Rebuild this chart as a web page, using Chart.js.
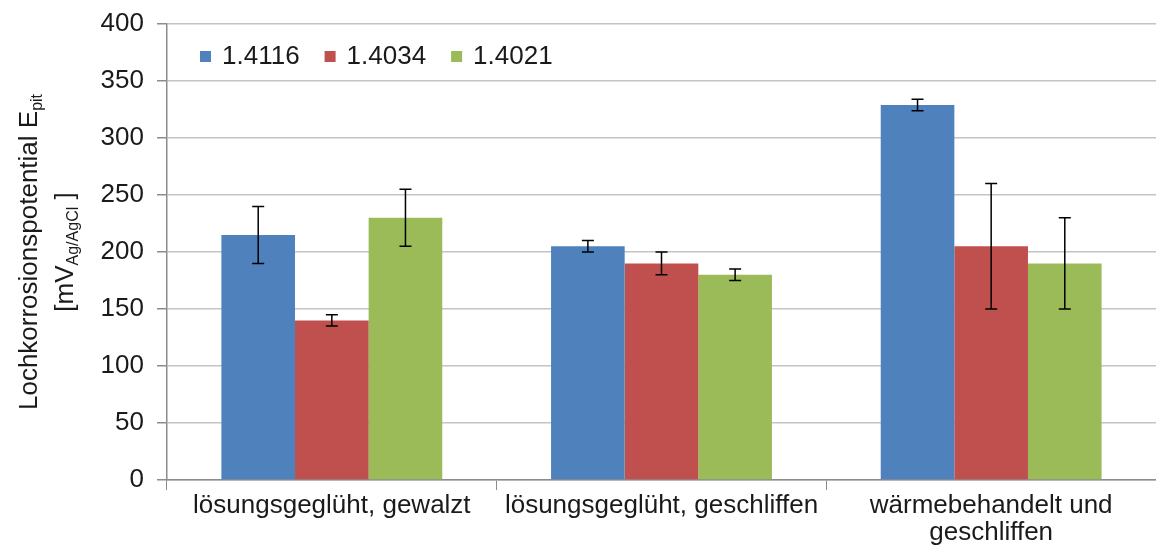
<!DOCTYPE html>
<html>
<head>
<meta charset="utf-8">
<script src="https://cdn.jsdelivr.net/npm/chart.js@4/dist/chart.umd.min.js"></script>
<style>
html,body{margin:0;padding:0;background:#fff;}
#wrap{width:1156px;height:554px;position:relative;}
</style>
</head>
<body>
<div id="wrap"><canvas id="c" width="1156" height="554"></canvas></div>
<script>
const categories = [["lösungsgeglüht, gewalzt"], ["lösungsgeglüht, geschliffen"], ["wärmebehandelt und", "geschliffen"]];
const seriesNames = ["1.4116", "1.4034", "1.4021"];
const values4116 = [215, 205, 329];
const values4034 = [140, 190, 205];
const values4021 = [230, 180, 190];
const err4116 = [25, 5, 5];
const err4034 = [5, 10, 55];
const err4021 = [25, 5, 40];
const yTicks = [0, 50, 100, 150, 200, 250, 300, 350, 400];
const colors = ["#4F81BD", "#C0504D", "#9BBB59"];

const FONT = "'Liberation Sans', Arial, sans-serif";
const FS = 26;

const errorBars = {
  id: 'errorBars',
  afterDatasetsDraw(chart) {
    const ctx = chart.ctx, y = chart.scales.y;
    ctx.save();
    ctx.strokeStyle = '#000';
    ctx.lineWidth = 1.5;
    chart.data.datasets.forEach((ds, di) => {
      const meta = chart.getDatasetMeta(di);
      meta.data.forEach((bar, i) => {
        const v = ds.data[i], e = ds.errors[i];
        const yt = y.getPixelForValue(v + e), yb = y.getPixelForValue(v - e);
        const x = bar.x, w = 6;
        ctx.beginPath();
        ctx.moveTo(x, yt); ctx.lineTo(x, yb);
        ctx.moveTo(x - w, yt); ctx.lineTo(x + w, yt);
        ctx.moveTo(x - w, yb); ctx.lineTo(x + w, yb);
        ctx.stroke();
      });
    });
    ctx.restore();
  }
};

const innerLegend = {
  id: 'innerLegend',
  afterDraw(chart) {
    const ctx = chart.ctx, a = chart.chartArea;
    ctx.save();
    ctx.font = FS + 'px ' + FONT;
    ctx.textBaseline = 'middle';
    let x = a.left + 33;
    const cy = a.top + 32;
    chart.data.datasets.forEach(ds => {
      ctx.fillStyle = ds.backgroundColor;
      ctx.fillRect(x, cy - 5, 11, 11);
      x += 22;
      ctx.fillStyle = '#1a1a1a';
      ctx.fillText(ds.label, x, cy + 1);
      x += ctx.measureText(ds.label).width + 25;
    });
    ctx.restore();
  }
};

function drawRuns(ctx, runs, cx, cy) {
  const big = FS + 'px ' + FONT, small = Math.round(FS * 0.6) + 'px ' + FONT;
  let total = 0;
  runs.forEach(r => { ctx.font = r[1] ? small : big; total += ctx.measureText(r[0]).width; });
  let x = cx - total / 2;
  runs.forEach(r => {
    ctx.font = r[1] ? small : big;
    ctx.fillText(r[0], x, cy + (r[1] ? 5 : 0));
    x += ctx.measureText(r[0]).width;
  });
}

const yTitle = {
  id: 'yTitle',
  afterDraw(chart) {
    const ctx = chart.ctx, a = chart.chartArea;
    const cy = (a.top + a.bottom) / 2;
    ctx.save();
    ctx.fillStyle = '#1a1a1a';
    ctx.textBaseline = 'alphabetic';
    ctx.translate(0, cy);
    ctx.rotate(-Math.PI / 2);
    drawRuns(ctx, [["Lochkorrosionspotential E", false], ["pit", true]], 0, 37);
    drawRuns(ctx, [["[mV", false], ["Ag/AgCl", true], [" ]", false]], 0, 73);
    ctx.restore();
  }
};

const datasets = [values4116, values4034, values4021].map((vals, i) => ({
  label: seriesNames[i],
  data: vals,
  errors: [err4116, err4034, err4021][i],
  backgroundColor: colors[i],
  borderWidth: 0,
  categoryPercentage: 0.67,
  barPercentage: 1.0
}));

new Chart(document.getElementById('c'), {
  type: 'bar',
  data: { labels: categories, datasets },
  options: {
    responsive: false,
    animation: false,
    devicePixelRatio: 1,
    layout: { padding: { top: 24, right: 0, bottom: 0, left: 0 } },
    plugins: { legend: { display: false }, tooltip: { enabled: false }, title: { display: false } },
    scales: {
      x: {
        offset: true,
        grid: { offset: true, drawOnChartArea: false, drawTicks: true, tickLength: 10, color: '#8c8c8c', lineWidth: 1 },
        border: { display: true, color: '#8c8c8c', width: 1.5 },
        ticks: { color: '#1a1a1a', font: { family: FONT, size: FS, lineHeight: 1.05 }, padding: 2, maxRotation: 0, autoSkip: false },
        afterFit: s => { s.height = 74; s.paddingLeft = 0; s.paddingRight = 0; }
      },
      y: {
        min: 0, max: 400,
        afterBuildTicks: s => { s.ticks = yTicks.map(v => ({ value: v })); },
        grid: { color: '#c4c4c4', lineWidth: 1.5, drawTicks: true, tickLength: 10,
                tickColor: '#8c8c8c' },
        border: { display: true, color: '#8c8c8c', width: 1.5 },
        ticks: { color: '#1a1a1a', font: { family: FONT, size: FS }, padding: 13 },
        afterFit: s => { s.width = 167; s.paddingTop = 0; s.paddingBottom = 0; }
      }
    }
  },
  plugins: [errorBars, innerLegend, yTitle]
});
</script>
</body>
</html>
